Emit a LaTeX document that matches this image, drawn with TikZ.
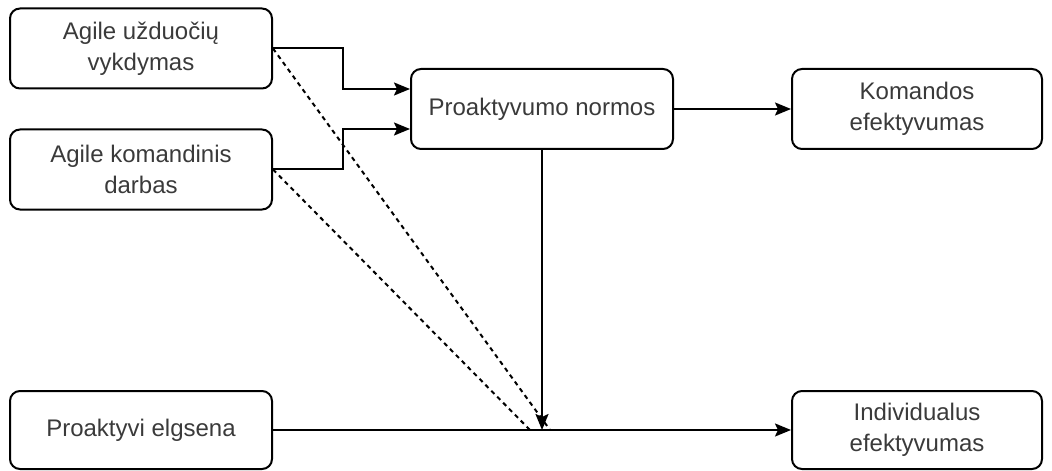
\documentclass[tikz,border=0pt]{standalone}
\usepackage{fontspec}
\setmainfont{Liberation Sans}
\usetikzlibrary{arrows.meta}
\definecolor{txtgray}{HTML}{3A3A3A}

\begin{document}
\begin{tikzpicture}[x=0.5pt, y=-0.5pt,
    factor/.style={draw, line width=1pt, rounded corners=5pt, minimum width=131pt,
      minimum height=40pt, align=center, text=txtgray, font=\fontsize{12}{15.5}\selectfont, inner sep=2pt},
    flow/.style={line width=1pt, -{Stealth[length=8pt, width=6.5pt, inset=1.5pt]}},
    link/.style={line width=1pt, dash pattern=on 2.2pt off 2pt}]
  \useasboundingbox (0,0) rectangle (1052,470);
  \node [factor] (uzd) at (141,48.5) {Agile užduočių\\vykdymas};
  \node [factor] (kom) at (141,169.5) {Agile komandinis\\darbas};
  \node [factor] (norm) at (542,109) {Proaktyvumo normos};
  \node [factor, minimum width=125pt] (kefe) at (917,109) {Komandos\\efektyvumas};
  \node [factor, minimum height=39pt] (elg) at (141,430) {Proaktyvi elgsena};
  \node [factor, minimum width=125pt, minimum height=39pt] (iefe) at (917,430) {Individualus\\efektyvumas};
  \coordinate (meet) at (542,430);
  \coordinate (endA) at (550,430);
  \coordinate (endB) at (530,430);
  % moderating paths
  \draw [link] (uzd.east) -- (endA);
  \draw [link] (kom.east) -- (endB);
  % main paths
  \draw [flow] (uzd.east) -- ++(70,0) |- ([yshift=10pt]norm.west);
  \draw [flow] (kom.east) -- ++(70,0) |- ([yshift=-10pt]norm.west);
  \draw [flow] (norm.east) -- (kefe.west);
  \draw [flow] (elg.east) -- (iefe.west);
  \draw [flow] (norm.south) -- (meet);
\end{tikzpicture}
\end{document}
